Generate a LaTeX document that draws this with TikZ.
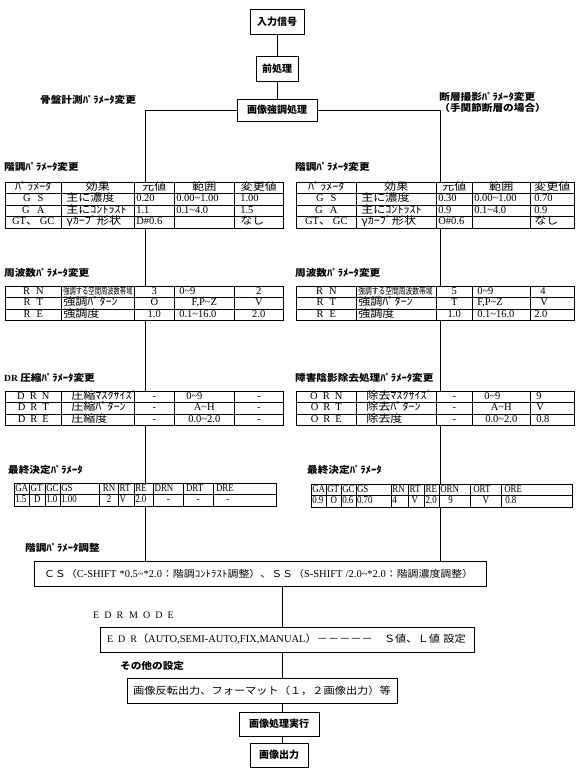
\documentclass[tikz,border=0pt]{standalone}
\usepackage{fontspec}
\setmainfont{Liberation Serif}
\newfontfamily\jp{Noto Sans CJK JP}
\newfontfamily\jpl[FakeStretch=1.12]{Noto Sans CJK JP}
\newfontfamily\jpw[FakeStretch=1.15]{Noto Sans CJK JP}
\newfontfamily\jpn[FakeStretch=0.7]{Noto Sans CJK JP}
\newfontfamily\jpm[FakeStretch=0.75]{Noto Sans CJK JP}
\newfontfamily\latn[FakeStretch=0.85]{Liberation Serif}
\newfontfamily\latsp[LetterSpace=50]{Liberation Serif}
\usetikzlibrary{matrix}
\newcommand\J[1]{{\jpw #1}}
\newcommand\Cc[1]{\makebox[\hsize][c]{#1}}
\newcommand\pd[1][3pt]{\hspace*{#1}}
\newcommand\tl{\textasciitilde}
\newcommand\Lt[1]{{\rmfamily\fontsize{10.5}{10}\selectfont #1}}
\begin{document}
\begin{tikzpicture}[x=1pt,y=-1pt,
  box/.style={draw, line width=0.9pt, fill=white, inner sep=0pt, align=center,
    font=\jp\bfseries\fontsize{10}{10}\selectfont},
  lbl/.style={anchor=west, inner sep=0pt, align=left, font=\jpl\bfseries\fontsize{9.5}{11}\selectfont},
  conn/.style={line width=0.9pt},
  tbl/.style={matrix of nodes, nodes in empty cells, anchor=north west, inner sep=0pt, outer sep=0pt,
    column sep=-0.6pt, row sep=-0.6pt,
    nodes={draw, line width=0.6pt, fill=white, inner xsep=2pt, inner ysep=0.4pt,
      text height=7.8pt, text depth=2.8pt, align=left,
      font=\fontsize{10.5}{11}\selectfont}},
  ltab/.style={tbl,
    column 1/.style={nodes={text width=52pt}}, column 2/.style={nodes={text width=69pt}},
    column 3/.style={nodes={text width=36pt}}, column 4/.style={nodes={text width=56pt}},
    column 5/.style={nodes={text width=45pt}}},
  rtab/.style={tbl,
    column 1/.style={nodes={text width=56pt}}, column 2/.style={nodes={text width=76pt}},
    column 3/.style={nodes={text width=32pt}}, column 4/.style={nodes={text width=54pt}},
    column 5/.style={nodes={text width=40pt}}},
  ftab/.style={matrix of nodes, nodes in empty cells, anchor=north west, inner sep=0pt, outer sep=0pt,
    column sep=-0.6pt, row sep=-0.6pt,
    nodes={draw, line width=0.6pt, fill=white, inner xsep=1pt, inner ysep=0.4pt,
      text height=7.8pt, text depth=2.8pt, align=left,
      font=\latn\fontsize{10.5}{11}\selectfont}},
]
\useasboundingbox (0,0) rectangle (575,770);

% main boxes
\node[box, minimum width=54pt, minimum height=25pt] (in) at (277,21.5) {入力信号};
\node[box, minimum width=42pt, minimum height=25pt] (pre) at (277,68.5) {前処理};
\node[box, minimum width=80pt, minimum height=22pt] (enh) at (277,110) {画像強調処理};
\node[box, minimum width=452pt, minimum height=25pt, text width=432pt, align=left,
  font=\jpw\fontsize{9.5}{10}\selectfont] (cs) at (260,573.5)
  {ＣＳ（\Lt{C-SHIFT *0.5\tl*2.0}：階調ｺﾝﾄﾗｽﾄ調整）、ＳＳ（\Lt{S-SHIFT /2.0\tl*2.0}：階調濃度調整）};
\node[box, minimum width=374pt, minimum height=25pt, text width=360pt, align=left,
  font=\jpl\fontsize{10}{10}\selectfont] (edr) at (287,639.5)
  {{\latsp EDR}（\Lt{AUTO,SEMI-AUTO,FIX,MANUAL}）－－－－－　Ｓ値、Ｌ値 設定};
\node[box, minimum width=270pt, minimum height=25pt, font=\jpl\fontsize{10}{10}\selectfont] (oth) at (262,690.5)
  {画像反転出力、フォーマット（１，２画像出力）等};
\node[box, minimum width=80pt, minimum height=24pt] (exe) at (279,724) {画像処理実行};
\node[box, minimum width=58pt, minimum height=24pt] (out) at (279,755) {画像出力};

% axis coordinates
\coordinate (lx) at (145,0);
\coordinate (rx) at (440,0);
\coordinate (ax) at (282,0);

% connectors
\draw[conn] (in.south) -- (pre.north);
\draw[conn] (pre.south) -- (enh.north);
\draw[conn] (enh.west) -| (cs.north -| lx);
\draw[conn] (enh.east) -| (cs.north -| rx);
\draw[conn] (cs.south -| ax) -- (edr.north -| ax);
\draw[conn] (edr.south -| ax) -- (oth.north -| ax);
\draw[conn] (oth.south -| ax) -- (exe.north -| ax);
\draw[conn] (exe.south -| ax) -- (out.north -| ax);

% labels
\node[lbl] (lhead) at (40,100) {骨盤計測ﾊﾟﾗﾒｰﾀ変更};
\node[lbl, anchor=north east, align=left] (rhead) at (546,92) {断層撮影ﾊﾟﾗﾒｰﾀ変更\\（手関節断層の場合）};
\node[lbl] (l1) at (4,167) {階調ﾊﾟﾗﾒｰﾀ変更};
\node[lbl] (r1) at (295,167) {階調ﾊﾟﾗﾒｰﾀ変更};
\node[lbl] (l2) at (4,273) {周波数ﾊﾟﾗﾒｰﾀ変更};
\node[lbl] (r2) at (295,273) {周波数ﾊﾟﾗﾒｰﾀ変更};
\node[lbl] (l3) at (4,378) {{\bfseries\rmfamily DR} 圧縮ﾊﾟﾗﾒｰﾀ変更};
\node[lbl] (r3) at (295,378) {障害陰影除去処理ﾊﾟﾗﾒｰﾀ変更};
\node[lbl] (l4) at (8,470) {最終決定ﾊﾟﾗﾒｰﾀ};
\node[lbl] (r4) at (307,470) {最終決定ﾊﾟﾗﾒｰﾀ};
\node[lbl] (adj) at (25,548) {階調ﾊﾟﾗﾒｰﾀ調整};
\node[lbl, font=\latsp\fontsize{10}{10}\selectfont] (mode) at (93,615) {EDR\hspace{6pt}MODE};
\node[lbl] (etc) at (120,666) {その他の設定};

% tables: gradation
\matrix (tl1) [ltab] at (5,182) {
 \Cc{\J{ﾊﾟﾗﾒｰﾀ}} & \Cc{\J{効果}} & \Cc{\J{元値}} & \Cc{\J{範囲}} & \Cc{\J{変更値}}\\
 \Cc{G\hspace{7pt}S} & \pd\J{主に濃度} & 0.20 & 0.00\tl1.00 & \pd[4pt]1.00\\
 \Cc{G\hspace{7pt}A} & \pd\J{主にｺﾝﾄﾗｽﾄ} & 1.1 & 0.1\tl4.0 & \pd[4pt]1.5\\
 \Cc{GT\J{、}\,GC} & \pd\J{γｶｰﾌﾞ形状} & D\#0.6 & & \pd[4pt]\J{なし}\\
};
\matrix (tr1) [rtab] at (296,182) {
 \Cc{\J{ﾊﾟﾗﾒｰﾀ}} & \Cc{\J{効果}} & \Cc{\J{元値}} & \Cc{\J{範囲}} & \Cc{\J{変更値}}\\
 \Cc{G\hspace{7pt}S} & \pd\J{主に濃度} & 0.30 & 0.00\tl1.00 & \pd[2pt]0.70\\
 \Cc{G\hspace{7pt}A} & \pd\J{主にｺﾝﾄﾗｽﾄ} & 0.9 & 0.1\tl4.0 & \pd[2pt]0.9\\
 \Cc{GT\J{、}\,GC} & \pd\J{γｶｰﾌﾞ形状} & O\#0.6 & & \pd[2pt]\J{なし}\\
};
% tables: frequency
\matrix (tl2) [ltab] at (5,286) {
 \Cc{R\hspace{6pt}N} & {\jpn\fontsize{9}{9}\selectfont 強調する空間周波数帯域} & \Cc{3} & \pd 0\tl9 & \Cc{2}\\
 \Cc{R\hspace{6pt}T} & \J{強調ﾊﾟﾀｰﾝ} & \Cc{O} & \Cc{F,P\tl Z} & \Cc{V}\\
 \Cc{R\hspace{6pt}E} & \J{強調度} & \Cc{1.0} & \pd 0.1\tl16.0 & \Cc{2.0}\\
};
\matrix (tr2) [rtab] at (296,286) {
 \Cc{R\hspace{6pt}N} & {\jpm\fontsize{9}{9}\selectfont 強調する空間周波数帯域} & \Cc{5} & \pd 0\tl9 & \pd[8pt]4\\
 \Cc{R\hspace{6pt}T} & \J{強調ﾊﾟﾀｰﾝ} & \Cc{T} & \pd F,P\tl Z & \pd[8pt]V\\
 \Cc{R\hspace{6pt}E} & \J{強調度} & \Cc{1.0} & \pd 0.1\tl16.0 & \pd[2pt]2.0\\
};
% tables: DR compression / artifact removal
\matrix (tl3) [ltab] at (5,391) {
 \Cc{D\hspace{5pt}R\hspace{5pt}N} & \pd[8pt]\J{圧縮ﾏｽｸｻｲｽﾞ} & \Cc{-} & \pd[10pt]0\tl9 & \Cc{-}\\
 \Cc{D\hspace{5pt}R\hspace{5pt}T} & \pd[8pt]\J{圧縮ﾊﾟﾀｰﾝ} & \Cc{-} & \Cc{A\tl H} & \Cc{-}\\
 \Cc{D\hspace{5pt}R\hspace{5pt}E} & \pd[8pt]\J{圧縮度} & \Cc{-} & \Cc{0.0\tl2.0} & \Cc{-}\\
};
\matrix (tr3) [rtab] at (296,391) {
 \Cc{O\hspace{5pt}R\hspace{5pt}N} & \pd[8pt]\J{除去ﾏｽｸｻｲｽﾞ} & \Cc{-} & \pd[10pt]0\tl9 & \pd[4pt]9\\
 \Cc{O\hspace{5pt}R\hspace{5pt}T} & \pd[8pt]\J{除去ﾊﾟﾀｰﾝ} & \Cc{-} & \Cc{A\tl H} & \pd[4pt]V\\
 \Cc{O\hspace{5pt}R\hspace{5pt}E} & \pd[8pt]\J{除去度} & \Cc{-} & \Cc{0.0\tl2.0} & \pd[4pt]0.8\\
};
% final parameter tables
\matrix (tl4) [ftab,
  column 1/.style={nodes={text width=13.3pt}}, column 2/.style={nodes={text width=13.7pt}},
  column 3/.style={nodes={text width=13pt}}, column 4/.style={nodes={text width=37.3pt}},
  column 5/.style={nodes={text width=17pt}}, column 6/.style={nodes={text width=13.7pt}},
  column 7/.style={nodes={text width=17.3pt}}, column 8/.style={nodes={text width=27.4pt}},
  column 9/.style={nodes={text width=28pt}}, column 10/.style={nodes={text width=61.3pt}}]
  at (14,483) {
 GA & GT & GC & GS & \Cc{RN} & RT & RE & DRN & \pd[2pt]DRT & \pd[2pt]DRE\\
 1.5 & \Cc{D} & 1.0 & 1.00 & \Cc{2} & V & 2.0 & \Cc{-} & \Cc{-} & \pd[12pt]-\\
};
\matrix (tr4) [ftab,
  column 1/.style={nodes={text width=13pt}}, column 2/.style={nodes={text width=13pt}},
  column 3/.style={nodes={text width=12.7pt}}, column 4/.style={nodes={text width=33.3pt}},
  column 5/.style={nodes={text width=15.3pt}}, column 6/.style={nodes={text width=14pt}},
  column 7/.style={nodes={text width=12.7pt}}, column 8/.style={nodes={text width=29pt}},
  column 9/.style={nodes={text width=29pt}}, column 10/.style={nodes={text width=69.3pt}}]
  at (311,484) {
 GA & GT & GC & GS & RN & RT & RE & ORN & \pd[2pt]ORT & \pd[2pt]ORE\\
 0.9 & \Cc{O} & 0.6 & 0.70 & 4 & \pd[2pt]V & 2.0 & \pd[8pt]9 & \Cc{V} & \pd[3pt]0.8\\
};
\end{tikzpicture}
\end{document}
